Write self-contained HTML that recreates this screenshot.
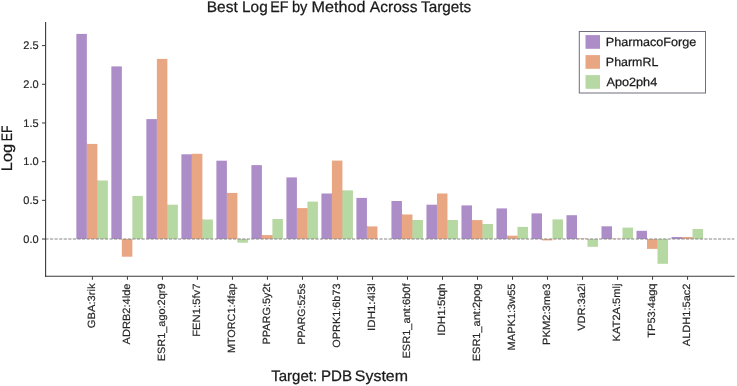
<!DOCTYPE html>
<html><head><meta charset="utf-8"><title>Best Log EF by Method Across Targets</title><style>
html,body{margin:0;padding:0;background:#fff;}
svg{display:block;will-change:transform;}
text{text-rendering:geometricPrecision;font-family:"Liberation Sans",sans-serif;fill:#1a1a1a;stroke:#1a1a1a;stroke-width:0.25px;}
text.t{fill:#262626;stroke:#262626;stroke-width:0.18px;}
</style></head><body>
<svg width="737" height="386" viewBox="0 0 737 386">
<rect x="0" y="0" width="737" height="386" fill="#fff"/>
<g id="bars">
<rect x="76.35" y="33.90" width="10.50" height="205.10" fill="#ac8dc8"/>
<rect x="86.65" y="143.90" width="1.2" height="95.10" fill="#ac8dc8"/>
<rect x="86.85" y="143.90" width="10.50" height="95.10" fill="#e9a682"/>
<rect x="97.15" y="180.50" width="1.2" height="58.50" fill="#e9a682"/>
<rect x="97.35" y="180.50" width="10.50" height="58.50" fill="#b6d8a2"/>
<rect x="111.36" y="66.40" width="10.50" height="172.60" fill="#ac8dc8"/>
<rect x="121.86" y="239.00" width="10.50" height="17.70" fill="#e9a682"/>
<rect x="132.36" y="195.90" width="10.50" height="43.10" fill="#b6d8a2"/>
<rect x="146.37" y="119.10" width="10.50" height="119.90" fill="#ac8dc8"/>
<rect x="156.67" y="119.10" width="1.2" height="119.90" fill="#ac8dc8"/>
<rect x="156.87" y="58.90" width="10.50" height="180.10" fill="#e9a682"/>
<rect x="167.17" y="204.70" width="1.2" height="34.30" fill="#e9a682"/>
<rect x="167.37" y="204.70" width="10.50" height="34.30" fill="#b6d8a2"/>
<rect x="181.38" y="154.30" width="10.50" height="84.70" fill="#ac8dc8"/>
<rect x="191.68" y="154.30" width="1.2" height="84.70" fill="#ac8dc8"/>
<rect x="191.88" y="153.80" width="10.50" height="85.20" fill="#e9a682"/>
<rect x="202.18" y="219.50" width="1.2" height="19.50" fill="#e9a682"/>
<rect x="202.38" y="219.50" width="10.50" height="19.50" fill="#b6d8a2"/>
<rect x="216.39" y="160.70" width="10.50" height="78.30" fill="#ac8dc8"/>
<rect x="226.69" y="192.90" width="1.2" height="46.10" fill="#ac8dc8"/>
<rect x="226.89" y="192.90" width="10.50" height="46.10" fill="#e9a682"/>
<rect x="237.39" y="239.00" width="10.50" height="3.70" fill="#b6d8a2"/>
<rect x="251.40" y="165.10" width="10.50" height="73.90" fill="#ac8dc8"/>
<rect x="261.70" y="235.10" width="1.2" height="3.90" fill="#ac8dc8"/>
<rect x="261.90" y="235.10" width="10.50" height="3.90" fill="#e9a682"/>
<rect x="272.20" y="235.10" width="1.2" height="3.90" fill="#e9a682"/>
<rect x="272.40" y="219.00" width="10.50" height="20.00" fill="#b6d8a2"/>
<rect x="286.41" y="177.40" width="10.50" height="61.60" fill="#ac8dc8"/>
<rect x="296.71" y="208.10" width="1.2" height="30.90" fill="#ac8dc8"/>
<rect x="296.91" y="208.10" width="10.50" height="30.90" fill="#e9a682"/>
<rect x="307.21" y="208.10" width="1.2" height="30.90" fill="#e9a682"/>
<rect x="307.41" y="201.60" width="10.50" height="37.40" fill="#b6d8a2"/>
<rect x="321.42" y="193.50" width="10.50" height="45.50" fill="#ac8dc8"/>
<rect x="331.72" y="193.50" width="1.2" height="45.50" fill="#ac8dc8"/>
<rect x="331.92" y="160.60" width="10.50" height="78.40" fill="#e9a682"/>
<rect x="342.22" y="190.40" width="1.2" height="48.60" fill="#e9a682"/>
<rect x="342.42" y="190.40" width="10.50" height="48.60" fill="#b6d8a2"/>
<rect x="356.43" y="197.90" width="10.50" height="41.10" fill="#ac8dc8"/>
<rect x="366.73" y="226.40" width="1.2" height="12.60" fill="#ac8dc8"/>
<rect x="366.93" y="226.40" width="10.50" height="12.60" fill="#e9a682"/>
<rect x="391.44" y="201.00" width="10.50" height="38.00" fill="#ac8dc8"/>
<rect x="401.74" y="214.50" width="1.2" height="24.50" fill="#ac8dc8"/>
<rect x="401.94" y="214.50" width="10.50" height="24.50" fill="#e9a682"/>
<rect x="412.24" y="220.00" width="1.2" height="19.00" fill="#e9a682"/>
<rect x="412.44" y="220.00" width="10.50" height="19.00" fill="#b6d8a2"/>
<rect x="426.45" y="204.70" width="10.50" height="34.30" fill="#ac8dc8"/>
<rect x="436.75" y="204.70" width="1.2" height="34.30" fill="#ac8dc8"/>
<rect x="436.95" y="193.50" width="10.50" height="45.50" fill="#e9a682"/>
<rect x="447.25" y="220.00" width="1.2" height="19.00" fill="#e9a682"/>
<rect x="447.45" y="220.00" width="10.50" height="19.00" fill="#b6d8a2"/>
<rect x="461.46" y="205.40" width="10.50" height="33.60" fill="#ac8dc8"/>
<rect x="471.76" y="220.10" width="1.2" height="18.90" fill="#ac8dc8"/>
<rect x="471.96" y="220.10" width="10.50" height="18.90" fill="#e9a682"/>
<rect x="482.26" y="224.00" width="1.2" height="15.00" fill="#e9a682"/>
<rect x="482.46" y="224.00" width="10.50" height="15.00" fill="#b6d8a2"/>
<rect x="496.47" y="208.40" width="10.50" height="30.60" fill="#ac8dc8"/>
<rect x="506.77" y="235.70" width="1.2" height="3.30" fill="#ac8dc8"/>
<rect x="506.97" y="235.70" width="10.50" height="3.30" fill="#e9a682"/>
<rect x="517.27" y="235.70" width="1.2" height="3.30" fill="#e9a682"/>
<rect x="517.47" y="226.90" width="10.50" height="12.10" fill="#b6d8a2"/>
<rect x="531.48" y="213.40" width="10.50" height="25.60" fill="#ac8dc8"/>
<rect x="541.98" y="239.00" width="10.50" height="1.40" fill="#e9a682"/>
<rect x="552.48" y="219.40" width="10.50" height="19.60" fill="#b6d8a2"/>
<rect x="566.49" y="215.20" width="10.50" height="23.80" fill="#ac8dc8"/>
<rect x="576.79" y="238.50" width="1.2" height="0.50" fill="#ac8dc8"/>
<rect x="576.99" y="238.50" width="10.50" height="0.50" fill="#e9a682"/>
<rect x="587.49" y="239.00" width="10.50" height="7.80" fill="#b6d8a2"/>
<rect x="601.50" y="226.30" width="10.50" height="12.70" fill="#ac8dc8"/>
<rect x="611.80" y="238.70" width="1.2" height="0.30" fill="#ac8dc8"/>
<rect x="612.00" y="238.70" width="10.50" height="0.30" fill="#e9a682"/>
<rect x="622.30" y="238.70" width="1.2" height="0.30" fill="#e9a682"/>
<rect x="622.50" y="227.60" width="10.50" height="11.40" fill="#b6d8a2"/>
<rect x="636.51" y="230.80" width="10.50" height="8.20" fill="#ac8dc8"/>
<rect x="647.01" y="239.00" width="10.50" height="9.90" fill="#e9a682"/>
<rect x="657.31" y="239.00" width="1.2" height="9.90" fill="#e9a682"/>
<rect x="657.51" y="239.00" width="10.50" height="24.80" fill="#b6d8a2"/>
<rect x="671.52" y="237.00" width="10.50" height="2.00" fill="#ac8dc8"/>
<rect x="681.82" y="237.00" width="1.2" height="2.00" fill="#ac8dc8"/>
<rect x="682.02" y="237.00" width="10.50" height="2.00" fill="#e9a682"/>
<rect x="692.32" y="237.00" width="1.2" height="2.00" fill="#e9a682"/>
<rect x="692.52" y="229.00" width="10.50" height="10.00" fill="#b6d8a2"/>
</g>
<line x1="45.4" y1="239.0" x2="734.3" y2="239.0" stroke="#868686" stroke-width="1" stroke-dasharray="3.2 1.376"/>
<line x1="45.6" y1="22" x2="45.6" y2="276.8" stroke="#3a3a3a" stroke-width="1.1"/>
<line x1="45" y1="276.3" x2="734.7" y2="276.3" stroke="#3a3a3a" stroke-width="1.1"/>
<line x1="42" y1="239.03" x2="45.6" y2="239.03" stroke="#3a3a3a" stroke-width="1"/>
<text x="38.6" y="242.83" font-size="11" text-anchor="end" class="t">0.0</text>
<line x1="42" y1="200.34" x2="45.6" y2="200.34" stroke="#3a3a3a" stroke-width="1"/>
<text x="38.6" y="204.15" font-size="11" text-anchor="end" class="t">0.5</text>
<line x1="42" y1="161.66" x2="45.6" y2="161.66" stroke="#3a3a3a" stroke-width="1"/>
<text x="38.6" y="165.46" font-size="11" text-anchor="end" class="t">1.0</text>
<line x1="42" y1="122.97" x2="45.6" y2="122.97" stroke="#3a3a3a" stroke-width="1"/>
<text x="38.6" y="126.77" font-size="11" text-anchor="end" class="t">1.5</text>
<line x1="42" y1="84.29" x2="45.6" y2="84.29" stroke="#3a3a3a" stroke-width="1"/>
<text x="38.6" y="88.09" font-size="11" text-anchor="end" class="t">2.0</text>
<line x1="42" y1="45.60" x2="45.6" y2="45.60" stroke="#3a3a3a" stroke-width="1"/>
<text x="38.6" y="49.40" font-size="11" text-anchor="end" class="t">2.5</text>
<line x1="92.40" y1="276.3" x2="92.40" y2="279.8" stroke="#3a3a3a" stroke-width="1"/>
<text transform="translate(95.00,283.5) rotate(-90)" x="0" y="0" font-size="10.5" text-anchor="end" textLength="44.7" lengthAdjust="spacingAndGlyphs" class="t">GBA:3rik</text>
<line x1="127.41" y1="276.3" x2="127.41" y2="279.8" stroke="#3a3a3a" stroke-width="1"/>
<text transform="translate(130.01,283.5) rotate(-90)" x="0" y="0" font-size="10.5" text-anchor="end" textLength="60.9" lengthAdjust="spacingAndGlyphs" class="t">ADRB2:4lde</text>
<line x1="162.42" y1="276.3" x2="162.42" y2="279.8" stroke="#3a3a3a" stroke-width="1"/>
<text transform="translate(165.02,283.5) rotate(-90)" x="0" y="0" font-size="10.5" text-anchor="end" textLength="77.8" lengthAdjust="spacingAndGlyphs" class="t">ESR1_ago:2qr9</text>
<line x1="197.43" y1="276.3" x2="197.43" y2="279.8" stroke="#3a3a3a" stroke-width="1"/>
<text transform="translate(200.03,283.5) rotate(-90)" x="0" y="0" font-size="10.5" text-anchor="end" textLength="53.3" lengthAdjust="spacingAndGlyphs" class="t">FEN1:5fv7</text>
<line x1="232.44" y1="276.3" x2="232.44" y2="279.8" stroke="#3a3a3a" stroke-width="1"/>
<text transform="translate(235.04,283.5) rotate(-90)" x="0" y="0" font-size="10.5" text-anchor="end" textLength="69.6" lengthAdjust="spacingAndGlyphs" class="t">MTORC1:4fap</text>
<line x1="267.45" y1="276.3" x2="267.45" y2="279.8" stroke="#3a3a3a" stroke-width="1"/>
<text transform="translate(270.05,283.5) rotate(-90)" x="0" y="0" font-size="10.5" text-anchor="end" textLength="60.9" lengthAdjust="spacingAndGlyphs" class="t">PPARG:5y2t</text>
<line x1="302.46" y1="276.3" x2="302.46" y2="279.8" stroke="#3a3a3a" stroke-width="1"/>
<text transform="translate(305.06,283.5) rotate(-90)" x="0" y="0" font-size="10.5" text-anchor="end" textLength="60.9" lengthAdjust="spacingAndGlyphs" class="t">PPARG:5z5s</text>
<line x1="337.47" y1="276.3" x2="337.47" y2="279.8" stroke="#3a3a3a" stroke-width="1"/>
<text transform="translate(340.07,283.5) rotate(-90)" x="0" y="0" font-size="10.5" text-anchor="end" textLength="64.2" lengthAdjust="spacingAndGlyphs" class="t">OPRK1:6b73</text>
<line x1="372.48" y1="276.3" x2="372.48" y2="279.8" stroke="#3a3a3a" stroke-width="1"/>
<text transform="translate(375.08,283.5) rotate(-90)" x="0" y="0" font-size="10.5" text-anchor="end" textLength="47.4" lengthAdjust="spacingAndGlyphs" class="t">IDH1:4i3l</text>
<line x1="407.49" y1="276.3" x2="407.49" y2="279.8" stroke="#3a3a3a" stroke-width="1"/>
<text transform="translate(410.09,283.5) rotate(-90)" x="0" y="0" font-size="10.5" text-anchor="end" textLength="75.1" lengthAdjust="spacingAndGlyphs" class="t">ESR1_ant:6b0f</text>
<line x1="442.50" y1="276.3" x2="442.50" y2="279.8" stroke="#3a3a3a" stroke-width="1"/>
<text transform="translate(445.10,283.5) rotate(-90)" x="0" y="0" font-size="10.5" text-anchor="end" textLength="52.3" lengthAdjust="spacingAndGlyphs" class="t">IDH1:5tqh</text>
<line x1="477.51" y1="276.3" x2="477.51" y2="279.8" stroke="#3a3a3a" stroke-width="1"/>
<text transform="translate(480.11,283.5) rotate(-90)" x="0" y="0" font-size="10.5" text-anchor="end" textLength="77.8" lengthAdjust="spacingAndGlyphs" class="t">ESR1_ant:2pog</text>
<line x1="512.52" y1="276.3" x2="512.52" y2="279.8" stroke="#3a3a3a" stroke-width="1"/>
<text transform="translate(515.12,283.5) rotate(-90)" x="0" y="0" font-size="10.5" text-anchor="end" textLength="66.9" lengthAdjust="spacingAndGlyphs" class="t">MAPK1:3w55</text>
<line x1="547.53" y1="276.3" x2="547.53" y2="279.8" stroke="#3a3a3a" stroke-width="1"/>
<text transform="translate(550.13,283.5) rotate(-90)" x="0" y="0" font-size="10.5" text-anchor="end" textLength="61.5" lengthAdjust="spacingAndGlyphs" class="t">PKM2:3me3</text>
<line x1="582.54" y1="276.3" x2="582.54" y2="279.8" stroke="#3a3a3a" stroke-width="1"/>
<text transform="translate(585.14,283.5) rotate(-90)" x="0" y="0" font-size="10.5" text-anchor="end" textLength="47.3" lengthAdjust="spacingAndGlyphs" class="t">VDR:3a2i</text>
<line x1="617.55" y1="276.3" x2="617.55" y2="279.8" stroke="#3a3a3a" stroke-width="1"/>
<text transform="translate(620.15,283.5) rotate(-90)" x="0" y="0" font-size="10.5" text-anchor="end" textLength="57.9" lengthAdjust="spacingAndGlyphs" class="t">KAT2A:5mlj</text>
<line x1="652.56" y1="276.3" x2="652.56" y2="279.8" stroke="#3a3a3a" stroke-width="1"/>
<text transform="translate(655.16,283.5) rotate(-90)" x="0" y="0" font-size="10.5" text-anchor="end" textLength="54.3" lengthAdjust="spacingAndGlyphs" class="t">TP53:4agq</text>
<line x1="687.57" y1="276.3" x2="687.57" y2="279.8" stroke="#3a3a3a" stroke-width="1"/>
<text transform="translate(690.17,283.5) rotate(-90)" x="0" y="0" font-size="10.5" text-anchor="end" textLength="62.7" lengthAdjust="spacingAndGlyphs" class="t">ALDH1:5ac2</text>
<text x="206.73" y="12.2" font-size="15.4" textLength="30.98" lengthAdjust="spacingAndGlyphs">Best</text>
<text x="242.04" y="12.2" font-size="15.4" textLength="25.65" lengthAdjust="spacingAndGlyphs">Log</text>
<text x="270.33" y="12.2" font-size="15.4" textLength="18.24" lengthAdjust="spacingAndGlyphs">EF</text>
<text x="291.96" y="12.2" font-size="15.4" textLength="15.47" lengthAdjust="spacingAndGlyphs">by</text>
<text x="311.47" y="12.2" font-size="15.4" textLength="53.97" lengthAdjust="spacingAndGlyphs">Method</text>
<text x="369.77" y="12.2" font-size="15.4" textLength="47.69" lengthAdjust="spacingAndGlyphs">Across</text>
<text x="421.07" y="12.2" font-size="15.4" textLength="50.17" lengthAdjust="spacingAndGlyphs">Targets</text>
<text x="271.17" y="380.9" font-size="15.2" textLength="45.95" lengthAdjust="spacingAndGlyphs">Target:</text>
<text x="321.06" y="380.9" font-size="15.2" textLength="31.03" lengthAdjust="spacingAndGlyphs">PDB</text>
<text x="354.88" y="380.9" font-size="15.2" textLength="53.07" lengthAdjust="spacingAndGlyphs">System</text>
<text transform="translate(11.7,169.8) rotate(-90)" x="-1.34" y="0" font-size="15.2" textLength="27.3" lengthAdjust="spacingAndGlyphs">Log</text>
<text transform="translate(11.7,140.2) rotate(-90)" x="-1.01" y="0" font-size="15.2" textLength="15.7" lengthAdjust="spacingAndGlyphs">EF</text>
<rect x="579.3" y="31.5" width="126.2" height="61.5" fill="#fff" stroke="#6e6e7c" stroke-width="1"/>
<rect x="585.5" y="35.1" width="14.5" height="13.7" fill="#ac8dc8"/>
<text x="605.87" y="46.3" font-size="12.0" textLength="90.29" lengthAdjust="spacingAndGlyphs">PharmacoForge</text>
<rect x="585.5" y="55.1" width="14.5" height="13.7" fill="#e9a682"/>
<text x="605.88" y="66.3" font-size="12.0" textLength="52.43" lengthAdjust="spacingAndGlyphs">PharmRL</text>
<rect x="585.5" y="75.1" width="14.5" height="13.7" fill="#b6d8a2"/>
<text x="606.48" y="86.3" font-size="12.0" textLength="50.7" lengthAdjust="spacingAndGlyphs">Apo2ph4</text>
</svg>
</body></html>
